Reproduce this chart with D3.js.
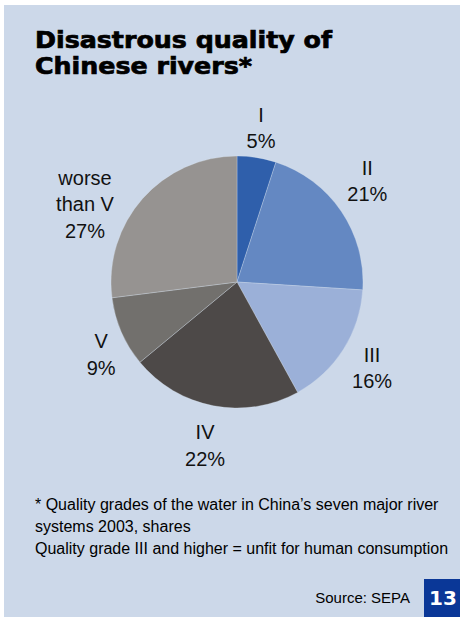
<!DOCTYPE html>
<html>
<head>
<meta charset="utf-8">
<script src="https://cdn.jsdelivr.net/npm/d3@7"></script>
<style>
  html, body { margin: 0; padding: 0; background: #ffffff; }
  svg { display: block; }
</style>
</head>
<body>
<svg id="chart" width="460" height="617"></svg>
<script>
// Water quality grades of China's seven major river systems, 2003 (shares, %)
const grades = ["I", "II", "III", "IV", "V", "worse than V"];
const shares = [5, 21, 16, 22, 9, 27];
const labelLines = [["I"], ["II"], ["III"], ["IV"], ["V"], ["worse", "than V"]];
const sliceColors = ["#2f5fab", "#6488c2", "#9bb0d8", "#4d4948", "#72706d", "#969391"];

const titleLines = ["Disastrous quality of", "Chinese rivers*"];
const footnoteLines = [
  "* Quality grades of the water in China\u2019s seven major river",
  "systems 2003, shares",
  "Quality grade III and higher = unfit for human consumption"
];
const sourceText = "Source: SEPA";
const pageNumber = "13";

const svg = d3.select("#chart");
const bg = "#ccd8e9";

// Panel background
svg.append("rect").attr("x", 4).attr("y", 5).attr("width", 456).attr("height", 612).attr("fill", bg);

// Title (heavy sans)
const titleWidths = [297, 217];
svg.append("g").selectAll("text").data(titleLines).join("text")
  .attr("x", 35)
  .attr("y", (d, i) => 47.5 + i * 26.7)
  .attr("font-family", "DejaVu Sans")
  .attr("font-weight", "bold")
  .attr("font-size", 22.4)
  .attr("fill", "#000")
  .attr("stroke", "#000")
  .attr("stroke-width", 0.7)
  .attr("textLength", (d, i) => titleWidths[i])
  .attr("lengthAdjust", "spacingAndGlyphs")
  .text(d => d);

// Pie
const cx = 237, cy = 282, radius = 126;
const pie = d3.pie().sort(null).value(d => d.value).startAngle(0).endAngle(2 * Math.PI);
const data = grades.map((g, i) => ({ grade: g, value: shares[i], lines: labelLines[i], color: sliceColors[i] }));
const arcs = pie(data);
const arc = d3.arc().innerRadius(0).outerRadius(radius);
const labelArc = d3.arc().innerRadius(160).outerRadius(160);

const g = svg.append("g").attr("transform", `translate(${cx},${cy})`);
g.selectAll("path").data(arcs).join("path")
  .attr("d", arc)
  .attr("fill", d => d.data.color)
  .attr("stroke", "#dfe6f1")
  .attr("stroke-width", 0.5)
  .attr("stroke-opacity", 0.6);

// Labels: centred blocks placed around the slice centroid, with small layout nudges
const labelNudge = {
  "I": [-1, 4], "II": [-2, -11], "III": [0, 0],
  "IV": [-2, 6], "V": [11, 9], "worse than V": [-32, 28]
};
const lineH = 26.5, capH = 14.3;
const labels = g.append("g")
  .attr("font-family", "Liberation Sans, Arial, sans-serif")
  .attr("font-size", 20)
  .attr("fill", "#111")
  .attr("text-anchor", "middle");

arcs.forEach(a => {
  const [lx, ly] = labelArc.centroid(a);
  const nd = labelNudge[a.data.grade] || [0, 0];
  const lines = a.data.lines.concat([a.data.value + "%"]);
  const blockH = lineH * (lines.length - 1) + capH;
  const x = lx + nd[0];
  const top = ly + nd[1] - blockH / 2;
  const t = labels.append("text").attr("x", x);
  lines.forEach((s, i) => {
    t.append("tspan").attr("x", x).attr("y", top + capH + i * lineH).text(s);
  });
});

// Footnote
svg.append("g").selectAll("text").data(footnoteLines).join("text")
  .attr("x", 35)
  .attr("y", (d, i) => 509.5 + i * 22)
  .attr("font-family", "Liberation Sans, Arial, sans-serif")
  .attr("font-size", 16)
  .attr("fill", "#000")
  .text(d => d);

// Source
svg.append("text")
  .attr("x", 410).attr("y", 602.5)
  .attr("text-anchor", "end")
  .attr("font-family", "Liberation Sans, Arial, sans-serif")
  .attr("font-size", 15)
  .attr("fill", "#000")
  .text(sourceText);

// Page number tab
svg.append("rect").attr("x", 424).attr("y", 579).attr("width", 36).attr("height", 38).attr("fill", "#0a3797");
svg.append("text")
  .attr("x", 443).attr("y", 604.5)
  .attr("text-anchor", "middle")
  .attr("font-family", "DejaVu Sans")
  .attr("font-weight", "bold")
  .attr("font-size", 20)
  .attr("fill", "#fff")
  .text(pageNumber);
</script>
</body>
</html>
